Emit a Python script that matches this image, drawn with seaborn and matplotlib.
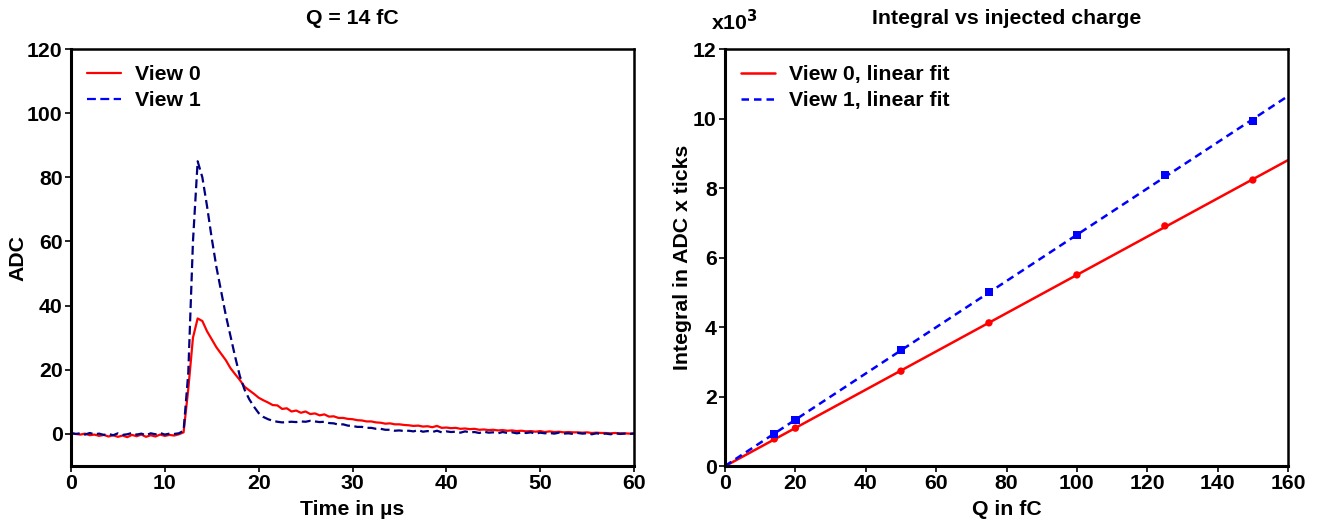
#!/usr/bin/env python3
"""Waveform at Q = 14 fC and integral vs injected charge, two views."""

import matplotlib

matplotlib.use("Agg")
import matplotlib.pyplot as plt
import numpy as np
import pandas as pd
import seaborn as sns

# Waveform, sampled every 0.5 us from 0 to 60 us
time_us = np.arange(0, 60.5, 0.5)
adc_view0 = [
    0.2, 0.0, -0.2, 0.1, -0.4, -0.2, -0.6, -0.3, -0.8, -0.4,
    -0.9, -0.5, -1.0, -0.3, -0.7, -0.2, -0.9, -0.4, -0.8, -0.2,
    -0.6, -0.3, -0.5, -0.1, 0.5, 14.0, 30.0, 36.0, 35.2, 32.0,
    29.5, 27.0, 25.0, 23.0, 20.5, 18.6, 16.8, 14.7, 13.6, 12.5,
    11.3, 10.5, 9.8, 9.0, 8.9, 7.8, 8.0, 7.0, 7.3, 6.6,
    7.0, 6.2, 6.4, 5.8, 6.1, 5.4, 5.5, 5.0, 5.0, 4.7,
    4.6, 4.3, 4.2, 3.9, 3.9, 3.6, 3.5, 3.2, 3.3, 3.0,
    3.0, 2.8, 2.7, 2.5, 2.6, 2.3, 2.4, 2.1, 2.5, 1.9,
    2.0, 1.8, 1.9, 1.6, 1.7, 1.5, 1.6, 1.3, 1.4, 1.2,
    1.3, 1.1, 1.2, 1.0, 1.1, 0.9, 1.0, 0.8, 0.9, 0.7,
    0.9, 0.6, 0.8, 0.6, 0.7, 0.5, 0.6, 0.5, 0.5, 0.4,
    0.5, 0.3, 0.4, 0.3, 0.3, 0.2, 0.3, 0.2, 0.2, 0.1,
    0.2,
]
adc_view1 = [
    0.3, 0.0, 0.2, -0.2, 0.3, -0.1, 0.1, -0.3, 0.0, -0.4,
    0.2, -0.3, -0.1, 0.3, -0.2, 0.1, -0.4, 0.2, -0.1, 0.3,
    -0.2, 0.1, 0.0, 0.2, 1.0, 19.0, 60.0, 85.0, 80.0, 71.0,
    61.0, 52.0, 44.5, 37.0, 30.5, 24.0, 18.0, 13.8, 10.8, 8.5,
    6.5, 5.3, 4.6, 4.1, 3.8, 3.6, 3.7, 3.8, 3.7, 3.9,
    3.8, 4.1, 3.9, 3.7, 3.8, 3.4, 3.3, 2.9, 3.0, 2.6,
    2.5, 2.2, 2.2, 1.9, 1.9, 1.6, 1.6, 1.3, 1.3, 1.0,
    1.1, 0.9, 1.0, 0.8, 1.2, 0.7, 0.9, 0.6, 1.0, 0.5,
    0.8, 0.6, 0.7, 0.4, 0.8, 0.5, 0.6, 0.3, 0.7, 0.4,
    0.5, 0.2, 0.6, 0.3, 0.5, 0.2, 0.4, 0.3, 0.5, 0.1,
    0.4, 0.2, 0.3, 0.1, 0.4, 0.1, 0.2, 0.0, 0.3, 0.1,
    0.2, -0.1, 0.2, 0.0, 0.1, -0.1, 0.2, 0.0, 0.1, 0.0,
    0.1,
]

# Integral vs injected charge
charge_fc = [14, 20, 50, 75, 100, 125, 150]
integral_view0 = [780, 1090, 2730, 4120, 5500, 6910, 8230]
integral_view1 = [920, 1320, 3340, 5010, 6650, 8370, 9930]

FONT = ["Liberation Sans", "DejaVu Sans"]
FS = 15.3


def style_axes(ax):
    for side in ["left", "bottom"]:
        ax.spines[side].set_linewidth(2.2)
    for side in ["top", "right"]:
        ax.spines[side].set_linewidth(1.8)
    ax.tick_params(direction="out", length=4, width=1.2, labelsize=FS, pad=2)
    for lab in ax.get_xticklabels() + ax.get_yticklabels():
        lab.set_fontweight("bold")


def main() -> None:
    sns.set_style("ticks")
    plt.rcParams["font.family"] = FONT
    plt.rcParams["font.weight"] = "bold"
    plt.rcParams["axes.labelweight"] = "bold"
    for key in ["text.color", "axes.labelcolor", "xtick.color", "ytick.color", "axes.edgecolor"]:
        plt.rcParams[key] = "black"

    wave = pd.DataFrame({"t": time_us, "v0": adc_view0, "v1": adc_view1})
    integ = pd.DataFrame({"q": charge_fc,
                          "i0": np.array(integral_view0) / 1e3,
                          "i1": np.array(integral_view1) / 1e3})

    fig = plt.figure(figsize=(13.19, 5.27), dpi=100)
    ax1 = fig.add_axes([0.0538, 0.1157, 0.4269, 0.7913])
    ax2 = fig.add_axes([0.5497, 0.1157, 0.4268, 0.7913])

    legend_kw = dict(loc="upper left", frameon=False, fontsize=FS, handlelength=1.6,
                     handletextpad=0.65, borderaxespad=0.35, labelspacing=0.35)

    # left: waveform
    sns.lineplot(data=wave, x="t", y="v0", ax=ax1, color="#ff0000", lw=1.6, label="View 0")
    sns.lineplot(data=wave, x="t", y="v1", ax=ax1, color="#000080", lw=1.6,
                 linestyle=(0, (4, 2)), label="View 1")
    ax1.set_xlim(0, 60)
    ax1.set_ylim(-10, 120)
    ax1.set_yticks(range(0, 121, 20))
    ax1.set_xticks(range(0, 61, 10))
    ax1.set_xlabel("Time in µs", fontsize=FS, labelpad=5)
    ax1.set_ylabel("ADC", fontsize=FS)
    ax1.yaxis.set_label_coords(-0.078, 0.5)
    ax1.set_title("Q = 14 fC", fontsize=FS, fontweight="bold", pad=18)
    leg = ax1.legend(**legend_kw)
    leg.get_lines()[1].set_color("#0000ff")
    style_axes(ax1)

    # right: integral vs charge with linear fits
    fit0 = np.polyfit(integ["q"], integ["i0"], 1)
    fit1 = np.polyfit(integ["q"], integ["i1"], 1)
    qq = np.array([0, 160])
    fits = pd.DataFrame({"q": qq, "f0": np.polyval(fit0, qq), "f1": np.polyval(fit1, qq)})

    sns.lineplot(data=fits, x="q", y="f0", ax=ax2, color="#ff0000", lw=1.8,
                 label="View 0, linear fit")
    sns.lineplot(data=fits, x="q", y="f1", ax=ax2, color="#0000ff", lw=1.8,
                 linestyle=(0, (3, 2)), label="View 1, linear fit")
    sns.scatterplot(data=integ, x="q", y="i0", ax=ax2, color="#ff0000", marker="o",
                    s=28, edgecolor="none", zorder=3)
    sns.scatterplot(data=integ, x="q", y="i1", ax=ax2, color="#0000ff", marker="s",
                    s=36, edgecolor="none", zorder=3)
    ax2.set_xlim(0, 160)
    ax2.set_ylim(0, 12)
    ax2.set_xticks(range(0, 161, 20))
    ax2.set_yticks(range(0, 13, 2))
    ax2.set_xlabel("Q in fC", fontsize=FS, labelpad=5)
    ax2.set_ylabel("Integral in ADC x ticks", fontsize=FS)
    ax2.yaxis.set_label_coords(-0.059, 0.5)
    ax2.set_title("Integral vs injected charge", fontsize=FS, fontweight="bold", pad=18)
    ax2.text(-0.025, 1.035, "x10$^3$", transform=ax2.transAxes, fontsize=FS,
             fontweight="bold", ha="left", va="bottom")
    ax2.legend(**legend_kw)
    style_axes(ax2)

    fig.savefig("out.png", dpi=100)
    plt.close(fig)


if __name__ == "__main__":
    main()
